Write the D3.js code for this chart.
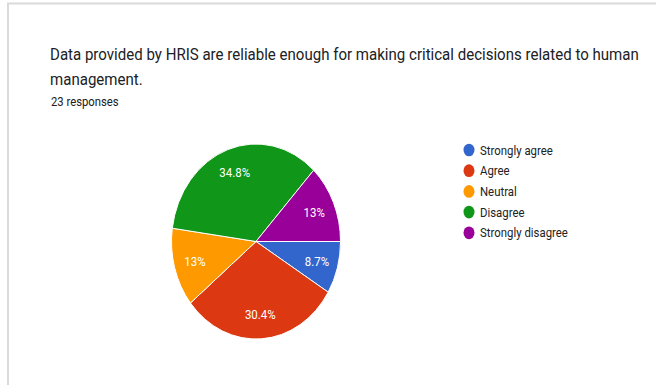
<!DOCTYPE html>
<html>
<head>
<meta charset="utf-8">
<script src="https://cdn.jsdelivr.net/npm/d3@7"></script>
<style>
  body { margin: 0; background: #fff; }
  text { font-family: Roboto, "Noto Sans", sans-serif; }
</style>
</head>
<body>
<script>
// survey data, 23 responses
var categories = ['Strongly agree', 'Agree', 'Neutral', 'Disagree', 'Strongly disagree'];
var counts = [2, 7, 3, 8, 3];
var percentLabels = ['8.7%', '30.4%', '13%', '34.8%', '13%'];
var colors = ['#3366cc', '#dc3912', '#ff9900', '#109618', '#990099'];

var titleLines = ['Data provided by HRIS are reliable enough for making critical decisions related to human', 'management.'];
var subtitle = '23 responses';

var draw = function() {
  let width = 656, height = 385;
  let stretch = 1.154; // picture is a bit taller than wide
  let cx = 256, cy = 241.5, rx = 84.5;

  let svg = d3.select('body')
    .append('svg')
    .attr('width', width)
    .attr('height', height);

  // card frame
  svg.append('path')
    .attr('d', 'M8,' + height + ' V3.5 H' + width)
    .attr('fill', 'none')
    .attr('stroke', '#dadada')
    .attr('stroke-width', 2);

  // title
  let title = svg.append('g');
  title.selectAll('text')
    .data(titleLines)
    .enter()
    .append('text')
    .attr('transform', (d, i) => 'translate(50,' + (60 + i * 25) + ') scale(1,' + stretch + ')')
    .attr('font-size', 15.05)
    .attr('fill', '#202124')
    .text(d => d);

  svg.append('text')
    .attr('transform', 'translate(51,106) scale(1,' + stretch + ')')
    .attr('font-size', 11.3)
    .attr('fill', '#202124')
    .text(subtitle);

  // pie
  let pie = d3.pie().sort(null)
    .startAngle(Math.PI / 2)
    .endAngle(Math.PI / 2 + 2 * Math.PI);
  let arcs = pie(counts);
  let arc = d3.arc().innerRadius(0).outerRadius(rx);
  let labelArc = d3.arc().innerRadius(rx * 0.75).outerRadius(rx * 0.75);

  let pieG = svg.append('g')
    .attr('transform', 'translate(' + cx + ',' + cy + ') scale(1,' + stretch + ')');

  pieG.selectAll('path')
    .data(arcs)
    .enter()
    .append('path')
    .attr('d', arc)
    .attr('fill', (d, i) => colors[i])
    .attr('stroke', '#fff')
    .attr('stroke-width', 1)
    .attr('vector-effect', 'non-scaling-stroke');

  svg.append('g').selectAll('text')
    .data(arcs)
    .enter()
    .append('text')
    .attr('transform', d => {
      let c = labelArc.centroid(d);
      return 'translate(' + (cx + c[0]) + ',' + (cy + c[1] * stretch) + ') scale(1,' + stretch + ')';
    })
    .attr('text-anchor', 'middle')
    .attr('dy', '0.35em')
    .attr('font-size', 11.5)
    .attr('fill', '#fff')
    .text((d, i) => percentLabels[i]);

  // legend
  let legend = svg.append('g')
    .attr('transform', 'translate(469,150)');
  let rows = legend.selectAll('g')
    .data(categories)
    .enter()
    .append('g')
    .attr('transform', (d, i) => 'translate(0,' + (i * 20.7) + ')');
  rows.append('ellipse')
    .attr('rx', 5.5)
    .attr('ry', 5.5 * stretch)
    .attr('fill', (d, i) => colors[i]);
  rows.append('text')
    .attr('transform', 'translate(11,0) scale(1,' + stretch + ')')
    .attr('dy', '0.35em')
    .attr('font-size', 11.4)
    .attr('fill', '#222')
    .text(d => d);
}

draw();
</script>
</body>
</html>
